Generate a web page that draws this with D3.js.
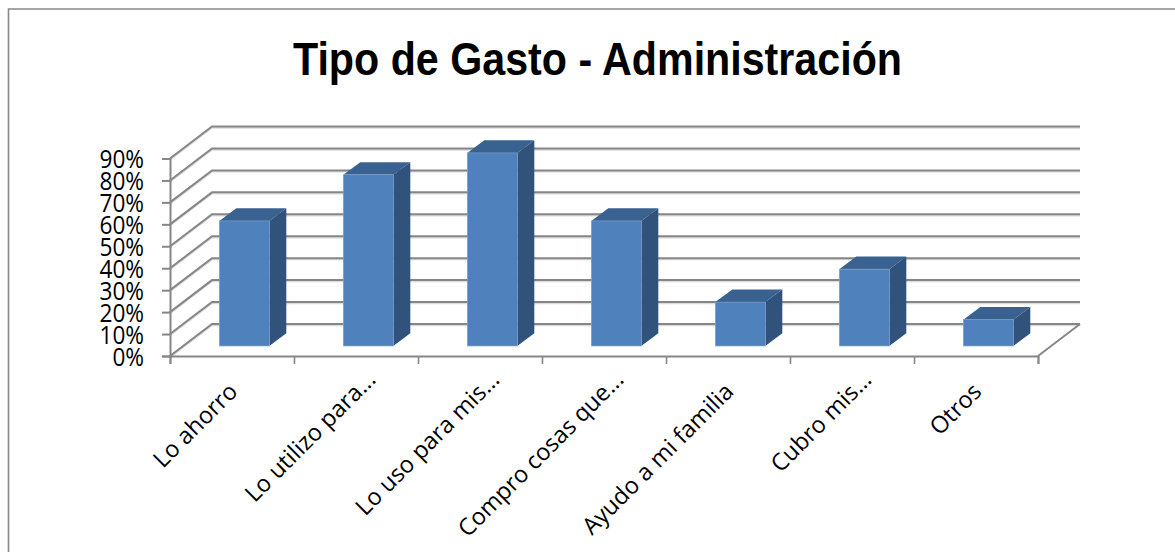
<!DOCTYPE html>
<html lang="es">
<head>
<meta charset="utf-8">
<title>Tipo de Gasto - Administración</title>
<script src="https://cdn.jsdelivr.net/npm/d3@7"></script>
<style>
  html, body { margin: 0; padding: 0; background: #fff; overflow: hidden; }
  svg { display: block; }
  .title { font-family: "Liberation Sans", sans-serif; font-weight: 700; font-size: 47px; fill: #000; }
  .ylab text { font-family: "Open Sans", sans-serif; font-size: 26px; fill: #000; }
  .xlab { font-family: "Open Sans", sans-serif; font-size: 23.5px; fill: #000; }
</style>
</head>
<body>
<svg id="chart" width="1175" height="552"></svg>
<script>
const chartTitle = "Tipo de Gasto - Administración";
const categories = ["Lo ahorro", "Lo utilizo para...", "Lo uso para mis...", "Compro cosas que...", "Ayudo a mi familia", "Cubro mis...", "Otros"];
const shares = [57, 78, 88, 57, 20, 35, 12];
const yTicks = [0, 10, 20, 30, 40, 50, 60, 70, 80, 90];

const W = 1175, H = 552;
const front = { left: 170, right: 1038, bottom: 356, top: 158.5 };
const wall = { dx: 42, dy: -32 };      // offset from the front plane to the back wall
const barDepth = { dx: 17, dy: -12.7 }; // extrusion of each column
const barShift = { dx: 12.3, dy: -10 }; // columns sit slightly behind the front plane
const gridColor = "#868686";

const svg = d3.select("#chart");

const y = d3.scaleLinear().domain([0, 90]).range([front.bottom, front.top]);
const gap = 1 - 50 / 124;
const x = d3.scaleBand().domain(categories).range([front.left, front.right])
  .paddingInner(gap).paddingOuter(gap / 2);
const edges = d3.scaleLinear().domain([0, categories.length]).range([front.left, front.right]);

// chart frame, running off the right and bottom of the page
svg.append("path")
  .attr("d", `M8.5 ${H + 2}V9H${W + 2}`)
  .attr("fill", "none").attr("stroke", "#888888").attr("stroke-width", 1.6);

// condensed bold heading
svg.append("text").attr("class", "title")
  .attr("x", 597.5).attr("y", 74.5).attr("text-anchor", "middle")
  .attr("textLength", 609).attr("lengthAdjust", "spacingAndGlyphs")
  .text(chartTitle);

// side wall diagonals and back wall gridlines, with a faint lower edge
const walls = svg.append("g").attr("fill", "none");
walls.selectAll("path.halo").data(yTicks).join("path").attr("class", "halo")
  .attr("d", d => `M${front.left} ${y(d) + 1.2}L${front.left + wall.dx} ${y(d) + wall.dy + 1.2}H${front.right + wall.dx}`)
  .attr("stroke", "#dcdcdc").attr("stroke-width", 2);
walls.selectAll("path.grid").data(yTicks).join("path").attr("class", "grid")
  .attr("d", d => `M${front.left} ${y(d)}L${front.left + wall.dx} ${y(d) + wall.dy}H${front.right + wall.dx}`)
  .attr("stroke", gridColor).attr("stroke-width", 2);

// floor edge on the right
walls.append("path")
  .attr("d", `M${front.right} ${y(0)}L${front.right + wall.dx} ${y(0) + wall.dy}`)
  .attr("stroke", gridColor).attr("stroke-width", 2);

// value axis, with tall condensed digits
const yAxis = svg.append("g").attr("class", "ylab")
  .attr("transform", `translate(${front.left},0)`)
  .call(d3.axisLeft(y).tickValues(yTicks).tickSize(8).tickFormat(d => d + "%"));
yAxis.select(".domain").attr("stroke", gridColor).attr("stroke-width", 2);
yAxis.selectAll(".tick line").attr("stroke", gridColor).attr("stroke-width", 2);
yAxis.selectAll(".tick text")
  .attr("x", -26 / 0.87).attr("dy", "0.36em")
  .attr("transform", "scale(0.87,1)");

// category axis: ticks mark the boundaries between categories
const xAxis = svg.append("g")
  .attr("transform", `translate(0,${front.bottom})`)
  .call(d3.axisBottom(edges).ticks(categories.length).tickSize(8).tickFormat(""));
xAxis.select(".domain").attr("stroke", gridColor).attr("stroke-width", 2);
xAxis.selectAll(".tick line").attr("stroke", gridColor).attr("stroke-width", 1.6);

// extruded columns
const bars = svg.append("g").selectAll("g").data(categories.map((c, i) => ({ c, v: shares[i] }))).join("g");
const barLeft = d => x(d.c) + barShift.dx;
const barRight = d => barLeft(d) + x.bandwidth();
const barTop = d => y(d.v) + barShift.dy;
const barBase = y(0) + barShift.dy;

bars.append("path").attr("fill", "#3A6291")
  .attr("d", d => `M${barLeft(d)} ${barTop(d)}l${barDepth.dx} ${barDepth.dy}H${barRight(d) + barDepth.dx}L${barRight(d)} ${barTop(d)}Z`);
bars.append("path").attr("fill", "#30527B")
  .attr("d", d => `M${barRight(d)} ${barTop(d)}l${barDepth.dx} ${barDepth.dy}V${barBase + barDepth.dy}L${barRight(d)} ${barBase}Z`);
bars.append("rect").attr("fill", "#4F81BD").attr("stroke", "#7FA3D0").attr("stroke-width", 0.6)
  .attr("x", barLeft).attr("y", barTop)
  .attr("width", x.bandwidth()).attr("height", d => barBase - barTop(d));

// rotated category labels; the shortened ones reach further along the slope
svg.append("g").selectAll("text").data(categories).join("text")
  .attr("class", "xlab")
  .attr("text-anchor", "end")
  .attr("transform", d => {
    const cx = x(d) + x.bandwidth() / 2;
    const short = d.endsWith("...");
    return `translate(${cx + (short ? 21 : 7)},${short ? 381 : 393}) rotate(-45)`;
  })
  .text(d => d);
</script>
</body>
</html>
